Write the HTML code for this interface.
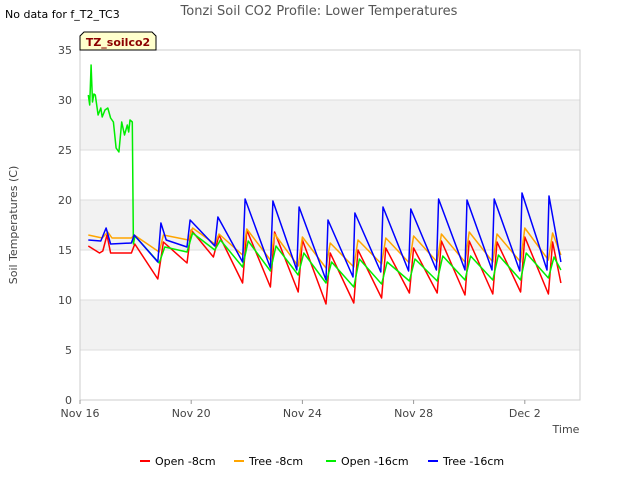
<!DOCTYPE html>
<html><head><meta charset="utf-8"><style>
body{margin:0;background:#fff;font-family:"Liberation Sans",sans-serif}
svg text{font-family:"DejaVu Sans","Liberation Sans",sans-serif}
</style></head><body>
<svg id="c" width="640" height="480" xmlns="http://www.w3.org/2000/svg">
<text x="5" y="18" font-size="11" fill="#000">No data for f_T2_TC3</text>
<text x="319" y="15" font-size="13" fill="#555" text-anchor="middle">Tonzi Soil CO2 Profile: Lower Temperatures</text>
<g id="plot"></g>
<text transform="translate(17,225) rotate(-90)" font-size="11" fill="#444" text-anchor="middle">Soil Temperatures (C)</text>
<text x="566" y="433" font-size="11" fill="#444" text-anchor="middle">Time</text>
<g>
<path d="M80,50 L80,36 L84,32 L152,32 L156,36 L156,50 Z" fill="#ffffcc" stroke="#000" stroke-width="1"/>
<text x="118" y="46" font-size="11" font-weight="bold" fill="#8b0000" text-anchor="middle">TZ_soilco2</text>
</g>
<g id="legend"></g>
</svg>
<script>
const yTicks=[0,5,10,15,20,25,30,35];
const xTickLabels=["Nov 16","Nov 20","Nov 24","Nov 28","Dec 2"];
const xTickDays=[0,4,8,12,16];
const seriesNames=["Open -8cm","Tree -8cm","Open -16cm","Tree -16cm"];
const seriesColors=["#ff0000","#ffa500","#00ee00","#0000ff"];
const redT=[0.3,0.7,0.82,0.97,1.1,1.85,1.97,2.8,3.0,3.85,4.0,4.8,5.0,5.85,6.0,6.85,7.0,7.85,8.0,8.85,9.0,9.85,10.0,10.85,11.0,11.85,12.0,12.85,13.0,13.85,14.0,14.85,15.0,15.85,16.0,16.85,17.0,17.3];
const redV=[15.4,14.7,14.9,16.5,14.7,14.7,15.6,12.1,15.8,13.7,17.0,14.3,16.5,11.7,17.0,11.3,16.8,10.8,16.0,9.6,14.7,9.7,15.0,10.2,15.2,10.7,15.2,10.7,15.9,10.5,15.9,10.6,15.8,10.8,16.3,10.6,15.8,11.7];
const orangeT=[0.3,0.8,1.0,1.15,1.85,1.95,2.85,3.0,3.9,4.05,4.85,5.0,5.85,6.0,6.85,7.0,7.85,8.0,8.85,9.0,9.85,10.0,10.85,11.0,11.85,12.0,12.85,13.0,13.85,14.0,14.85,15.0,15.85,16.0,16.85,17.0,17.3];
const orangeV=[16.5,16.2,16.8,16.2,16.2,16.5,14.8,16.5,16.0,17.2,15.6,16.6,14.5,17.1,14.0,16.6,13.4,16.3,13.2,15.7,13.3,16.0,13.6,16.2,13.7,16.4,13.8,16.6,13.8,16.8,13.8,16.6,13.8,17.2,14.0,16.7,14.5];
const greenT=[0.3,0.35,0.4,0.45,0.5,0.55,0.65,0.75,0.8,0.9,1.0,1.1,1.2,1.3,1.4,1.5,1.6,1.7,1.75,1.8,1.88,1.92,1.98,2.85,3.05,3.85,4.05,4.85,5.05,5.85,6.05,6.85,7.05,7.85,8.05,8.85,9.05,9.85,10.05,10.85,11.05,11.85,12.05,12.85,13.05,13.85,14.05,14.85,15.05,15.85,16.05,16.85,17.05,17.3];
const greenV=[30.5,29.5,33.5,29.8,30.6,30.5,28.5,29.2,28.3,29.0,29.2,28.2,27.8,25.2,24.8,27.8,26.5,27.5,26.8,28.0,27.8,15.6,16.4,13.7,15.3,14.8,16.7,15.0,16.0,13.3,15.9,12.9,15.4,12.5,14.7,11.7,13.8,11.3,14.1,11.6,13.8,11.9,14.1,11.9,14.4,12.0,14.4,12.0,14.5,12.0,14.7,12.2,14.3,13.0];
const blueT=[0.3,0.75,0.94,1.1,1.85,1.95,2.8,2.91,3.1,3.85,3.96,4.85,4.96,5.85,5.94,6.85,6.94,7.8,7.88,8.85,8.92,9.82,9.89,10.82,10.9,11.82,11.9,12.82,12.9,13.85,13.92,14.82,14.9,15.82,15.9,16.8,16.87,17.3];
const blueV=[16.0,15.9,17.2,15.6,15.7,16.5,13.8,17.7,16.0,15.3,18.0,15.4,18.3,13.8,20.1,13.2,19.9,13.0,19.3,12.0,18.0,12.3,18.7,12.8,19.3,12.9,19.1,13.0,20.1,13.0,20.0,13.0,20.1,12.9,20.7,13.0,20.4,13.8];

const NS="http://www.w3.org/2000/svg";
const L=80,R=580,T=50,B=400,yMax=35,dayPx=27.8;
const X=d=>L+d*dayPx, Y=v=>B-(v/yMax)*(B-T);
const plot=document.getElementById('plot');
function mk(tag,at,parent){const e=document.createElementNS(NS,tag);for(const k in at)e.setAttribute(k,at[k]);parent.appendChild(e);return e;}
for(let i=0;i<yTicks.length-1;i++){
  if(i%2===1){const b=mk('rect',{x:L,y:Y(yTicks[i+1]),width:R-L,height:Y(yTicks[i])-Y(yTicks[i+1]),fill:'#f2f2f2'},plot);
  
  }
}
yTicks.forEach(v=>{
  const g=mk('line',{x1:L,x2:R,y1:Y(v),y2:Y(v),stroke:'#dddddd','stroke-width':1},plot);
  
  
  const t=mk('text',{x:L-8,y:Y(v)+4,'font-size':11,fill:'#444','text-anchor':'end'},plot);
  
  
  t.textContent=v;
});
mk('rect',{x:L,y:T,width:R-L,height:B-T,fill:'none',stroke:'#cccccc'},plot);
xTickDays.forEach((d,i)=>{
  mk('line',{x1:X(d),x2:X(d),y1:B,y2:B+4,stroke:'#999'},plot);
  const t=mk('text',{x:X(d),y:B+17,'font-size':11,fill:'#444','text-anchor':'middle'},plot);
  
  
  t.textContent=xTickLabels[i];
});
const all=[[redT,redV],[orangeT,orangeV],[greenT,greenV],[blueT,blueV]];
all.forEach((s,i)=>{
  const d=s[0].map((t,j)=>(j?'L':'M')+X(t).toFixed(1)+','+Y(s[1][j]).toFixed(1)).join(' ');
  const p=mk('path',{d:d,fill:'none',stroke:seriesColors[i],'stroke-width':1.5,'stroke-linejoin':'round'},plot);
  
  
});
const lg=document.getElementById('legend');
const lx=[140,234,326,428];
seriesNames.forEach((n,i)=>{
  const g=mk('g',{},lg);
  
  
  mk('line',{x1:lx[i],x2:lx[i]+10,y1:461,y2:461,stroke:seriesColors[i],'stroke-width':2},g);
  const t=mk('text',{x:lx[i]+15,y:465,'font-size':11,fill:'#000'},g);
  t.textContent=n;
});
</script>
</body></html>
